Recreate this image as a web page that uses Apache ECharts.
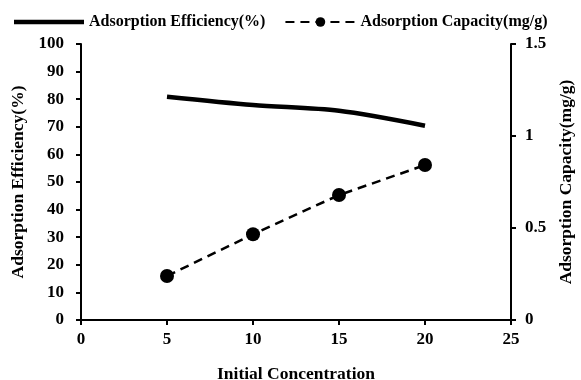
<!DOCTYPE html>
<html><head><meta charset="utf-8">
<script src="https://cdn.jsdelivr.net/npm/echarts@6/dist/echarts.min.js"></script>
<style>html,body{margin:0;padding:0;background:#fff}#c{width:581px;height:380px}</style>
</head><body><div id="c"></div>
<script>
var concentrations = [5, 10, 15, 20];
var efficiency = [80.9, 77.9, 75.8, 70.4];
var capacity = [0.239, 0.466, 0.679, 0.842];
var seriesNames = ['Adsorption Efficiency(%)', 'Adsorption Capacity(mg/g)'];
var xName = 'Initial Concentration';

var font = 'Liberation Serif';
var chart = echarts.init(document.getElementById('c'), null, {renderer: 'canvas'});
function pairs(xs, ys){ return xs.map(function(x,i){return [x, ys[i]];}); }
var axisCommon = {
  axisLine: {show: true, lineStyle: {color: '#000', width: 2}},
  axisTick: {show: true, inside: false, length: 5, lineStyle: {color: '#000', width: 2}},
  splitLine: {show: false},
  axisLabel: {color: '#000', fontFamily: font, fontWeight: 'bold', fontSize: 17},
  nameTextStyle: {color: '#000', fontFamily: font, fontWeight: 'bold', fontSize: 17.5}
};
chart.setOption({
  animation: false,
  backgroundColor: '#fff',
  grid: {left: 81, right: 70, top: 44, bottom: 60, containLabel: false, outerBoundsMode: 'none'},
  legend: {
    top: 9, left: 9, itemWidth: 70, itemHeight: 12, itemGap: 19,
    textStyle: {color: '#000', fontFamily: font, fontWeight: 'bold', fontSize: 16},
    data: [
      {name: seriesNames[0], icon: 'path://M0,0L0,0M0,3.8L70,3.8L70,8.2L0,8.2ZM70,12L70,12'},
      {name: seriesNames[1]}
    ]
  },
  xAxis: Object.assign({}, axisCommon, {
    type: 'value', min: 0, max: 25, interval: 5,
    name: xName, nameLocation: 'middle', nameGap: 45,
    axisLabel: Object.assign({}, axisCommon.axisLabel, {margin: 11})
  }),
  yAxis: [
    Object.assign({}, axisCommon, {
      type: 'value', min: 0, max: 100, interval: 10, position: 'left',
      name: seriesNames[0], nameLocation: 'middle', nameGap: 41, nameRotate: 90,
      axisLabel: Object.assign({}, axisCommon.axisLabel, {margin: 17})
    }),
    Object.assign({}, axisCommon, {
      type: 'value', min: 0, max: 1.5, interval: 0.5, position: 'right',
      name: seriesNames[1], nameLocation: 'middle', nameGap: 46, nameRotate: 90,
      axisLabel: Object.assign({}, axisCommon.axisLabel, {margin: 14})
    })
  ],
  series: [
    {
      name: seriesNames[0], type: 'line', yAxisIndex: 0,
      data: pairs(concentrations, efficiency), smooth: 0.3,
      symbol: 'none', showSymbol: false,
      lineStyle: {color: '#000', width: 4.5, type: 'solid'},
      itemStyle: {color: '#000'}
    },
    {
      name: seriesNames[1], type: 'line', yAxisIndex: 1,
      data: pairs(concentrations, capacity),
      symbol: 'circle', symbolSize: 14,
      lineStyle: {color: '#000', width: 2.5, type: [9, 6]},
      itemStyle: {color: '#000'}
    }
  ]
});
</script></body></html>
